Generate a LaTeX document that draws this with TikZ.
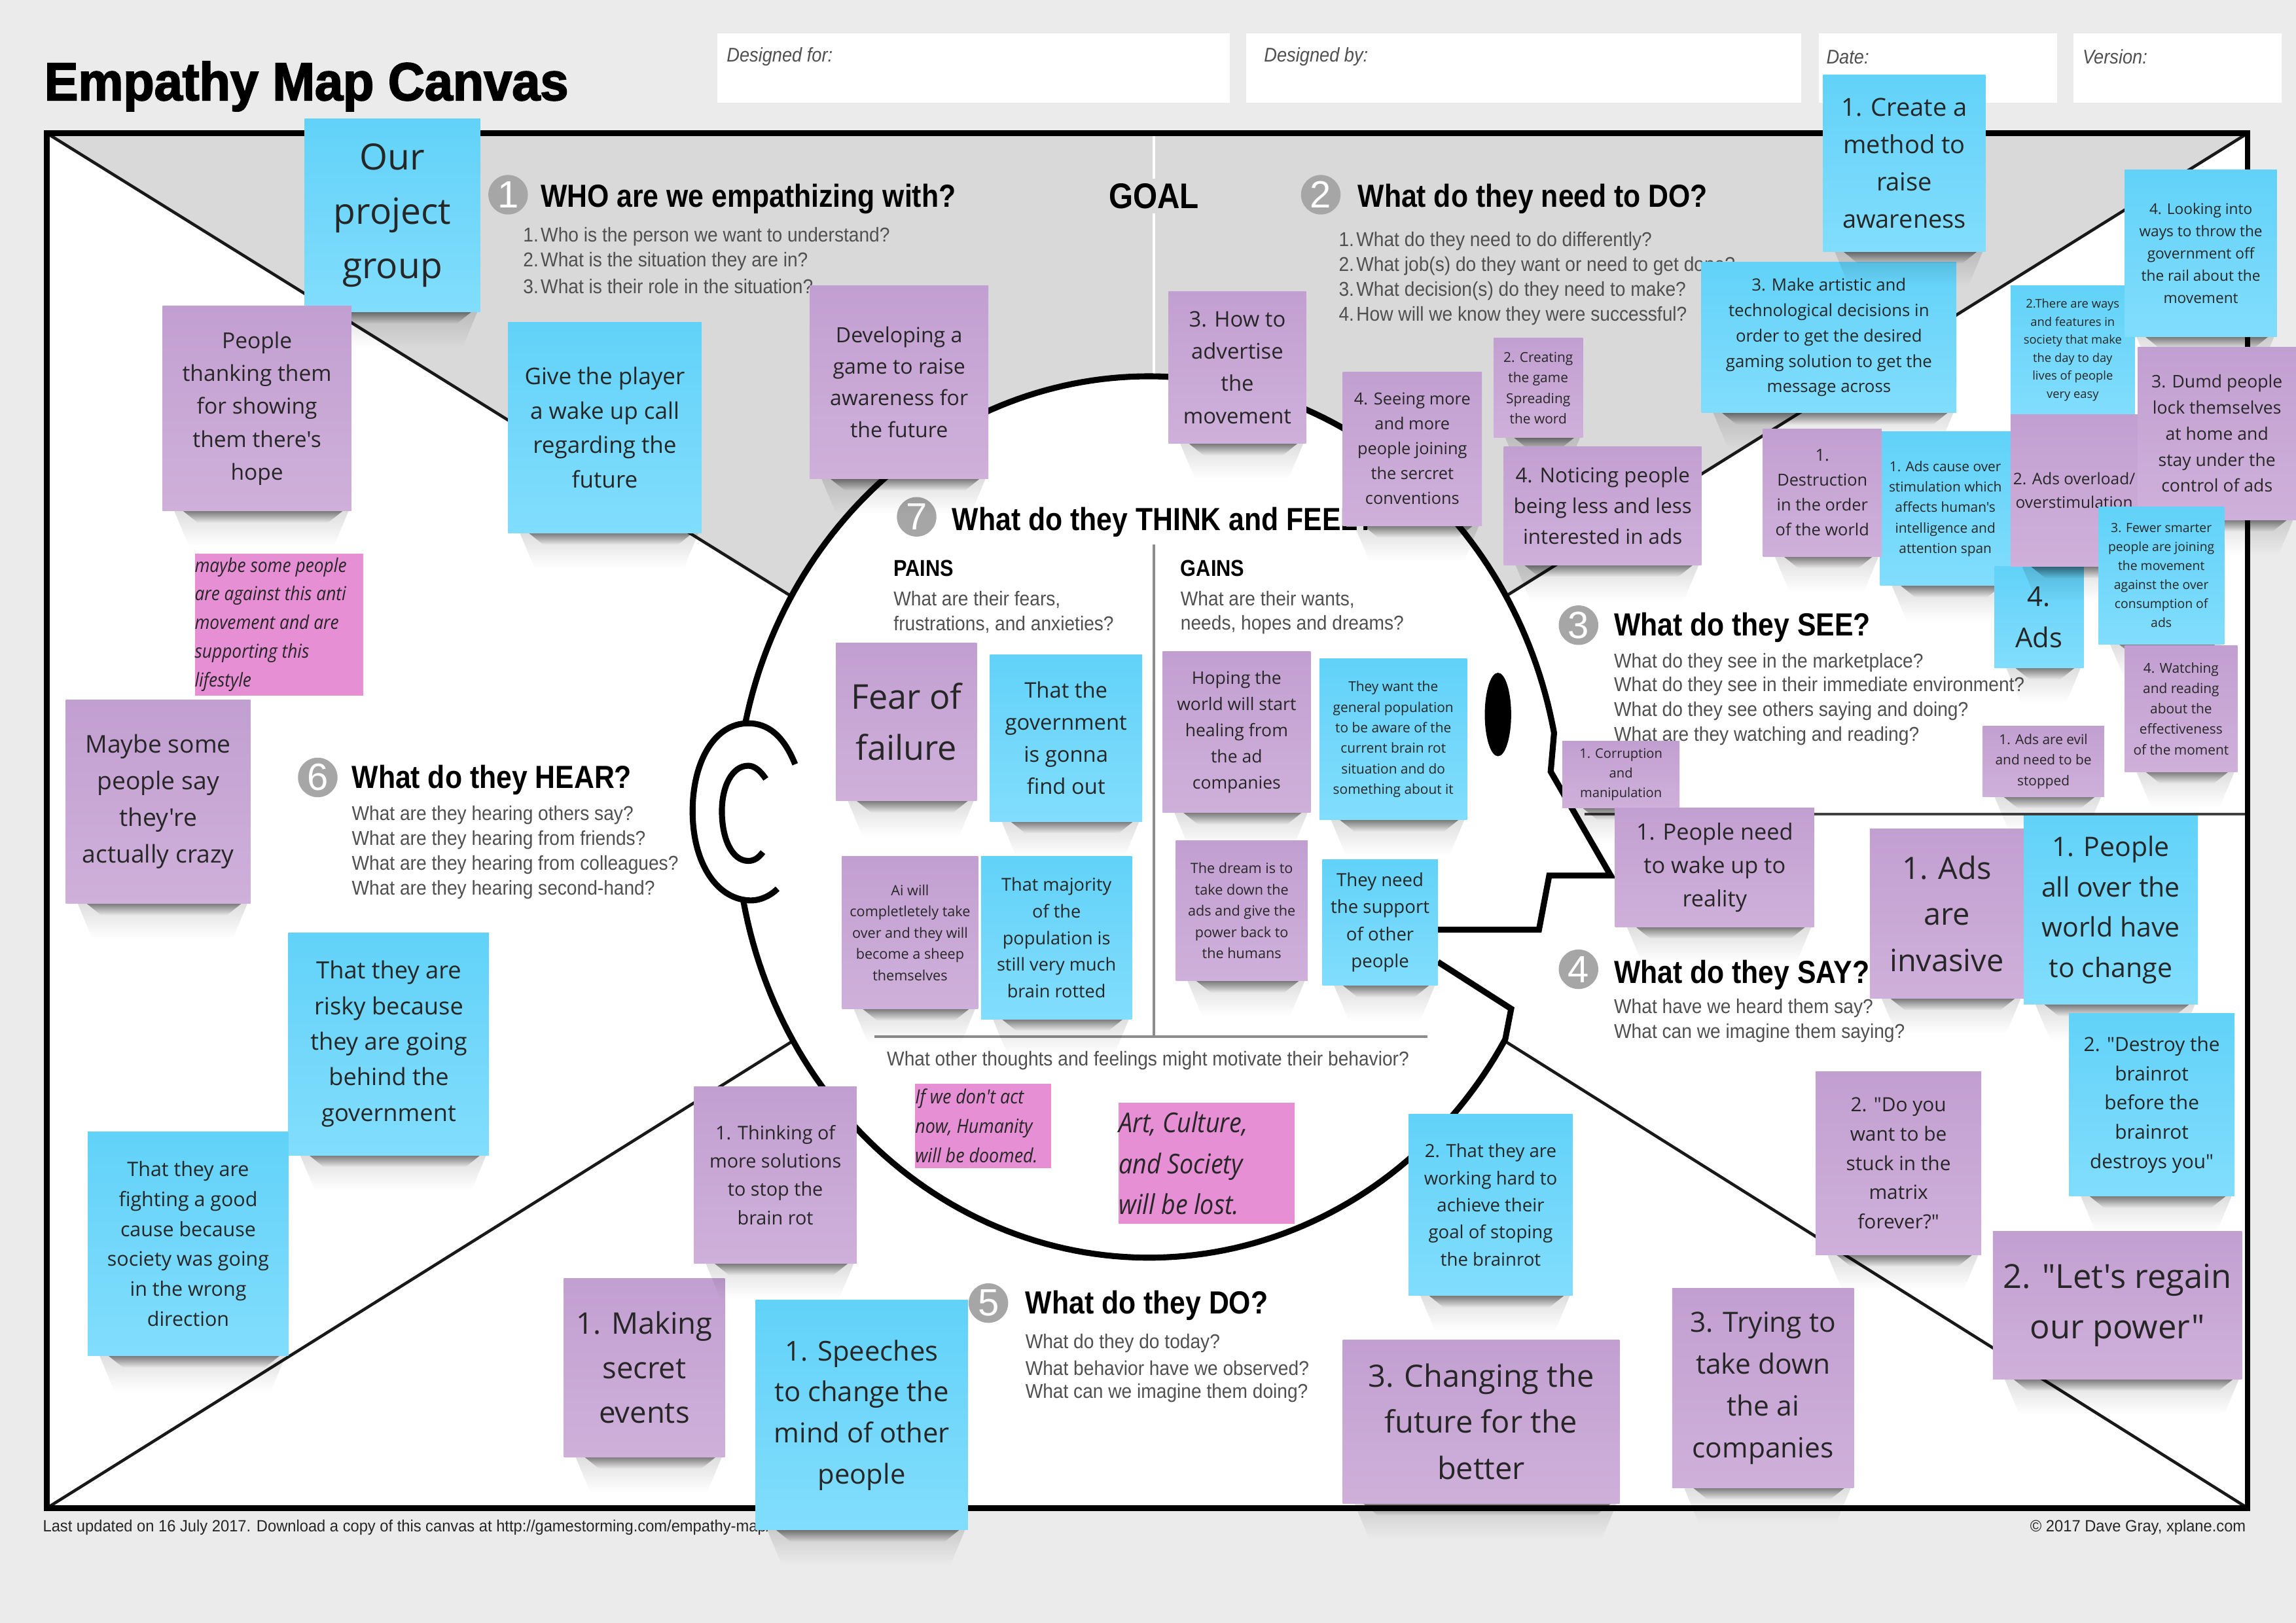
\documentclass[tikz,border=0pt]{standalone}
\usepackage{fontspec}
\usetikzlibrary{fadings,shapes.geometric}
\newfontfamily\notefont{Open Sans}
\newfontfamily\padfont{Open Sans}[FakeStretch=0.9]
\newfontfamily\headfont{Liberation Sans Bold}[FakeStretch=0.875]
\newfontfamily\qfont{Liberation Sans}[FakeStretch=0.92]
\newfontfamily\footfont{Liberation Sans}[FakeStretch=0.95]
\newfontfamily\metafont{Liberation Sans Italic}[FakeStretch=0.9]
\newfontfamily\discfont{Liberation Sans}
\newfontfamily\titlefont{Liberation Sans Bold}[FakeStretch=0.95,FakeBold=2.4]
\definecolor{pagebg}{HTML}{EBEBEB}
\definecolor{goalgray}{HTML}{D9D9D9}
\definecolor{numgray}{HTML}{A6A6A6}
\definecolor{qgray}{HTML}{505050}
\definecolor{blueA}{HTML}{62D2F8}
\definecolor{blueB}{HTML}{82DDFD}
\definecolor{purpA}{HTML}{C29FD1}
\definecolor{purpB}{HTML}{CFB0DA}
\definecolor{pinkA}{HTML}{E78FD4}
\def\uu{0.63649}
\tikzset{
  bluenote/.style={top color=blueA,bottom color=blueB},
  purplenote/.style={top color=purpA,bottom color=purpB},
  pinknote/.style={fill=pinkA},
  notebox/.style={rectangle,inner sep=0pt,outer sep=0pt,align=center,text=black!85},
  noteshadow/.style={fill=black,opacity=.45,path fading=south},
  notehalo/.style={fill=black,opacity=.13,path fading=south},
  numdisc/.style={circle,fill=numgray,text=white,minimum size=27*\uu pt,inner sep=0pt,font=\discfont\fontsize{16.5}{18}\selectfont},
  headtext/.style={anchor=west,inner sep=0pt,yshift=-1.1pt,font=\headfont\fontsize{13.9}{16}\selectfont},
  subhead/.style={anchor=west,inner sep=0pt,font=\headfont\fontsize{10}{12}\selectfont},
  qtext/.style={anchor=west,inner sep=0pt,yshift=-1pt,text=qgray,font=\qfont\fontsize{8.7}{10.8}\selectfont},
  foot/.style={inner sep=0pt,yshift=-0.8pt,font=\footfont\fontsize{7.1}{9}\selectfont,text=black!85},
  metatext/.style={anchor=west,inner sep=0pt,yshift=-1.2pt,text=qgray,font=\metafont\fontsize{8.6}{10}\selectfont},
  metabox/.style={rectangle,fill=white,inner sep=0pt,outer sep=0pt},
  diag/.style={line width=1.3pt,black!90},
  headline/.style={line width=2.6pt,black,line join=miter},
}
\newcommand{\qn}[1]{\makebox[12\dimexpr 0.63649pt\relax][l]{#1}}
% \sticky{name}{style}{x1}{y1}{x2}{y2}{leading}{text}
\newcommand{\sticky}[8]{%
  \pgfmathsetmacro\fsz{#7/1.5*\uu}\pgfmathsetmacro\lsk{#7*\uu}%
  \fill[notehalo] ({#3+8},#6) -- ({#5-2},#6) -- ({#5-12},{#6+24}) -- ({#3+18},{#6+24}) -- cycle;
  \fill[noteshadow] ({#3+14},#6) -- ({#5-6},#6) -- ({#5-16},{#6+8}) -- ({#3+24},{#6+8}) -- cycle;
  \node[notebox,#2,minimum width={(#5-#3)*\uu pt},minimum height={(#6-#4)*\uu pt},
    font=\notefont\fontsize{\fsz pt}{\lsk pt}\selectfont] (#1) at ({(#3+#5)/2},{(#4+#6)/2}) {#8};
}
% \pinkpad{name}{x1}{y1}{x2}{y2}{leading}{text}
\newcommand{\pinkpad}[7]{%
  \pgfmathsetmacro\fsz{#6/1.5*\uu}\pgfmathsetmacro\lsk{#6*\uu}%
  \node[notebox,pinknote,minimum width={(#4-#2)*\uu pt},minimum height={(#5-#3)*\uu pt}] (#1) at ({(#2+#4)/2},{(#3+#5)/2}) {};
  \node[notebox,align=left,anchor=west,
    font=\padfont\itshape\fontsize{\fsz pt}{\lsk pt}\selectfont] (#1t) at (#1.west) {#7};
}
\begin{document}
\begin{tikzpicture}[x=\uu pt,y=-\uu pt]
\useasboundingbox (0,0) rectangle (1568,1108.5);
\fill[pagebg] (0,0) rectangle (1568,1108.5);

% header
\node[anchor=west,inner sep=0pt,font=\titlefont\fontsize{23.2}{26}\selectfont] (title) at (30,59) {Empathy Map Canvas};
\node[metabox,minimum width=350*\uu pt,minimum height=47*\uu pt] (forbox) at (665,46.5) {};
\node[metabox,minimum width=379*\uu pt,minimum height=47*\uu pt] (bybox) at (1040.5,46.5) {};
\node[metabox,minimum width=163*\uu pt,minimum height=47*\uu pt] (datebox) at (1323.5,46.5) {};
\node[metabox,minimum width=142*\uu pt,minimum height=47*\uu pt] (verbox) at (1487,46.5) {};
\node[metatext] (forlab) at (496,37) {Designed for:};
\node[metatext] (bylab) at (863,37) {Designed by:};
\node[metatext] (datelab) at (1247,37) {Date:};
\node[metatext] (verlab) at (1422,37) {Version:};

% canvas
\coordinate (tl) at (32,91); \coordinate (tr) at (1535,91);
\coordinate (bl) at (32,1030); \coordinate (br) at (1535,1030);
\fill[white] (tl) rectangle (br);
\coordinate (htl) at (540,407); \coordinate (htr) at (1027,408);
\coordinate (hbl) at (543,710); \coordinate (hbr) at (1026,710);
\fill[goalgray] (tl) -- (tr) -- (htr) -- (784,300) -- (htl) -- cycle;
\draw[diag] (tl) -- (htl);
\draw[diag] (tr) -- (htr);
\draw[diag] (bl) -- (hbl);
\draw[diag] (br) -- (hbr);
\coordinate (rmid) at (1082,556); \coordinate (rend) at (1535,556);
\draw[diag,black!75] (rmid) -- (rend);
\coordinate (gtop) at (788,91); \coordinate (gbot) at (788,258);
\draw[white,line width=1.2pt] (gtop) -- (gbot);
\draw[line width=2.4pt,line join=miter] (tl) rectangle (br);

% head
\fill[white]
  plot[domain=192.3:349,samples=120] ({784.5+282*cos(\x)},{558+301*sin(\x)})
  -- (1059,527) -- (1100,598) -- (1058,598) -- (1051,635) -- (982,635) -- (982,657) -- (1032,689)
  -- plot[domain=30.3:169,samples=100] ({784.5+282*cos(\x)},{558+301*sin(\x)}) -- cycle;
\draw[headline]
  plot[domain=192.3:349,samples=120] ({784.5+282*cos(\x)},{558+301*sin(\x)})
  -- (1059,527) -- (1100,598) -- (1058,598) -- (1051,635) -- (982,635);
\draw[headline] (982,657) -- (1032,689)
  -- plot[domain=30.3:169,samples=100] ({784.5+282*cos(\x)},{558+301*sin(\x)});
% ear
\draw[headline] (543,522) .. controls (535,502) and (524,494) .. (511,494)
  .. controls (488,494) and (473,520) .. (473,554)
  .. controls (473,590) and (490,615) .. (513,615)
  .. controls (519,615) and (526,612) .. (531,607);
\draw[headline] (523,532) .. controls (519,526) and (515,523) .. (511,523)
  .. controls (500,523) and (493,537) .. (493,554)
  .. controls (493,573) and (500,588) .. (511,588)
  .. controls (515,588) and (518,586) .. (521,582);
\node[ellipse,fill=black,minimum width=18*\uu pt,minimum height=57*\uu pt,inner sep=0pt] (eye) at (1023,488) {};

% inner rules
\coordinate (vt) at (788,372); \coordinate (vb) at (788,708);
\coordinate (hl) at (597,708); \coordinate (hr) at (975,708);
\draw[line width=1pt,black!45] (vt) -- (vb);
\draw[line width=1pt,black!45] (hl) -- (hr);

% section 1
\node[numdisc] (n1) at (347,133) {1};
\node[headtext] (h1) at (369,134) {WHO are we empathizing with?};
\node[qtext] (q11) at (357,160) {\qn{1.}Who is the person we want to understand?};
\node[qtext] (q12) at (357,177) {\qn{2.}What is the situation they are in?};
\node[qtext] (q13) at (357,194) {\qn{3.}What is their role in the situation?};
% goal
\node[fill=goalgray,inner sep=2pt,yshift=-.6pt,font=\headfont\fontsize{15.5}{18}\selectfont] (goal) at (788,133) {GOAL};
% section 2
\node[numdisc] (n2) at (902,133) {2};
\node[headtext] (h2) at (927,134) {What do they need to DO?};
\node[qtext] (q21) at (914,163) {\qn{1.}What do they need to do differently?};
\node[qtext] (q22) at (914,180) {\qn{2.}What job(s) do they want or need to get done?};
\node[qtext] (q23) at (914,197) {\qn{3.}What decision(s) do they need to make?};
\node[qtext] (q24) at (914,214) {\qn{4.}How will we know they were successful?};
% section 7
\node[numdisc] (n7) at (626,353) {7};
\node[headtext] (h7) at (650,355) {What do they THINK and FEEL?};
\node[subhead] (pains) at (610,388) {PAINS};
\node[qtext] (p1) at (610,408) {What are their fears,};
\node[qtext] (p2) at (610,425) {frustrations, and anxieties?};
\node[subhead] (gains) at (806,388) {GAINS};
\node[qtext] (g1) at (806,408) {What are their wants,};
\node[qtext] (g2) at (806,425) {needs, hopes and dreams?};
\node[qtext,anchor=center] (other) at (784,723) {What other thoughts and feelings might motivate their behavior?};
% section 3
\node[numdisc] (n3) at (1078,427) {3};
\node[headtext] (h3) at (1102,427) {What do they SEE?};
\node[qtext] (q31) at (1102,451) {What do they see in the marketplace?};
\node[qtext] (q32) at (1102,467) {What do they see in their immediate environment?};
\node[qtext] (q33) at (1102,484) {What do they see others saying and doing?};
\node[qtext] (q34) at (1102,501) {What are they watching and reading?};
% section 6
\node[numdisc] (n6) at (217,531) {6};
\node[headtext] (h6) at (240,531) {What do they HEAR?};
\node[qtext] (q61) at (240,555) {What are they hearing others say?};
\node[qtext] (q62) at (240,572) {What are they hearing from friends?};
\node[qtext] (q63) at (240,589) {What are they hearing from colleagues?};
\node[qtext] (q64) at (240,606) {What are they hearing second-hand?};
% section 4
\node[numdisc] (n4) at (1078,662) {4};
\node[headtext] (h4) at (1102,664) {What do they SAY?};
\node[qtext] (q41) at (1102,687) {What have we heard them say?};
\node[qtext] (q42) at (1102,704) {What can we imagine them saying?};
% section 5
\node[numdisc] (n5) at (675,890) {5};
\node[headtext] (h5) at (700,890) {What do they DO?};
\node[qtext] (q51) at (700,916) {What do they do today?};
\node[qtext] (q52) at (700,933) {What behavior have we observed?};
\node[qtext] (q53) at (700,950) {What can we imagine them doing?};
% footer
\node[foot,anchor=west] (footl) at (29,1042) {Last updated on 16 July 2017. Download a copy of this canvas at http://gamestorming.com/empathy-map/};
\node[foot,anchor=east] (footr) at (1534,1042) {© 2017 Dave Gray, xplane.com};

% notes: goal area
\sticky{sOur}{bluenote}{208}{81}{328}{213}{37}{Our\\project\\group}
\sticky{sGive}{bluenote}{347}{220}{479}{364}{23.5}{Give the player\\a wake up call\\regarding the\\future}
\sticky{sDevelop}{purplenote}{553}{195}{675}{327}{21.5}{Developing a\\game to raise\\awareness for\\the future}
\sticky{sHow}{purplenote}{798}{199}{892}{303}{22}{3. How to\\advertise\\the\\movement}
\sticky{sSeeing}{purplenote}{917}{254}{1012}{359}{17}{4. Seeing more\\and more\\people joining\\the sercret\\conventions}
\sticky{sCreating}{purplenote}{1020}{231}{1081}{299}{14}{2. Creating\\the game\\Spreading\\the word}
\sticky{sNotice}{purplenote}{1027}{305}{1162}{386}{21}{4. Noticing people\\being less and less\\interested in ads}
\sticky{sMake}{bluenote}{1162}{179}{1336}{282}{17.3}{3. Make artistic and\\technological decisions in\\order to get the desired\\gaming solution to get the\\message across}
\sticky{sCreate}{bluenote}{1245}{51}{1356}{172}{25.5}{1. Create a\\method to\\raise\\awareness}
% notes: see area
\sticky{sWays}{bluenote}{1373}{195}{1458}{283}{12.3}{2.There are ways\\and features in\\society that make\\the day to day\\lives of people\\very easy}
\sticky{sLook}{bluenote}{1451}{116}{1555}{230}{15.2}{4. Looking into\\ways to throw the\\government off\\the rail about the\\movement}
\sticky{sAdsCause}{bluenote}{1284}{295}{1373}{400}{14}{1. Ads cause over\\stimulation which\\affects human's\\intelligence and\\attention span}
\sticky{sDestruct}{purplenote}{1204}{293}{1285}{380}{17}{1.\\Destruction\\in the order\\of the world}
\sticky{sAds}{bluenote}{1362}{387}{1423}{456}{28}{4.\\Ads}
\sticky{sOverload}{purplenote}{1373}{283}{1460}{387}{16.4}{2. Ads overload/\\overstimulation}
\sticky{sDumd}{purplenote}{1460}{237}{1568}{355}{17.8}{3. Dumd people\\lock themselves\\at home and\\stay under the\\control of ads}
\sticky{sFewer}{bluenote}{1433}{346}{1519}{440}{13}{3. Fewer smarter\\people are joining\\the movement\\against the over\\consumption of\\ads}
\sticky{sWatch}{purplenote}{1451}{441}{1528}{527}{14}{4. Watching\\and reading\\about the\\effectiveness\\of the moment}
\sticky{sEvil}{purplenote}{1354}{496}{1437}{544}{14}{1. Ads are evil\\and need to be\\stopped}
\sticky{sCorrupt}{purplenote}{1067}{506}{1147}{552}{13.5}{1. Corruption\\and\\manipulation}
% notes: say area
\sticky{sWake}{purplenote}{1103}{552}{1239}{633}{23}{1. People need\\to wake up to\\reality}
\sticky{sInvasive}{purplenote}{1277}{566}{1382}{682}{31.5}{1. Ads\\are\\invasive}
\sticky{sAllOver}{bluenote}{1382}{557}{1501}{686}{27.5}{1. People\\all over the\\world have\\to change}
\sticky{sDestroy}{bluenote}{1413}{692}{1526}{817}{20}{2. "Destroy the\\brainrot\\before the\\brainrot\\destroys you"}
\sticky{sMatrix}{purplenote}{1240}{732}{1353}{857}{20}{2. "Do you\\want to be\\stuck in the\\matrix\\forever?"}
\sticky{sRegain}{purplenote}{1361}{841}{1531}{942}{34}{2. "Let's regain\\our power"}
% notes: do area
\sticky{sTrying}{purplenote}{1142}{880}{1266}{1016}{28.5}{3. Trying to\\take down\\the ai\\companies}
\sticky{sChanging}{purplenote}{917}{915}{1106}{1027}{31.5}{3. Changing the\\future for the\\better}
\sticky{sHard}{bluenote}{962}{761}{1074}{885}{18.5}{2. That they are\\working hard to\\achieve their\\goal of stoping\\the brainrot}
\sticky{sMaking}{purplenote}{385}{873}{495}{995}{30.5}{1. Making\\secret\\events}
\sticky{sThinking}{purplenote}{474}{742}{585}{863}{19.3}{1. Thinking of\\more solutions\\to stop the\\brain rot}
\sticky{sSpeech}{bluenote}{516}{888}{661}{1045}{28}{1. Speeches\\to change the\\mind of other\\people}
% notes: hear area
\sticky{sThank}{purplenote}{111}{209}{240}{349}{22.5}{People\\thanking them\\for showing\\them there's\\hope}
\sticky{sCrazy}{purplenote}{45}{478}{171}{617}{25}{Maybe some\\people say\\they're\\actually crazy}
\sticky{sRisky}{bluenote}{197}{637}{334}{789}{24.3}{That they are\\risky because\\they are going\\behind the\\government}
\sticky{sCause}{bluenote}{60}{773}{197}{926}{20.4}{That they are\\fighting a good\\cause because\\society was going\\in the wrong\\direction}
% notes: think and feel
\sticky{sFear}{purplenote}{571}{439}{667}{547}{35}{Fear of\\failure}
\sticky{sGov}{bluenote}{676}{447}{780}{561}{22}{That the\\government\\is gonna\\find out}
\sticky{sHoping}{purplenote}{794}{445}{895}{555}{17.8}{Hoping the\\world will start\\healing from\\the ad\\companies}
\sticky{sWant}{bluenote}{901}{450}{1002}{560}{14}{They want the\\general population\\to be aware of the\\current brain rot\\situation and do\\something about it}
\sticky{sAi}{purplenote}{575}{585}{668}{689}{14.5}{Ai will\\completletely take\\over and they will\\become a sheep\\themselves}
\sticky{sMajor}{bluenote}{670}{585}{773}{696}{18.2}{That majority\\of the\\population is\\still very much\\brain rotted}
\sticky{sDream}{purplenote}{803}{574}{893}{670}{14.5}{The dream is to\\take down the\\ads and give the\\power back to\\the humans}
\sticky{sSupport}{bluenote}{903}{587}{982}{673}{18.5}{They need\\the support\\of other\\people}
% pink pads
\pinkpad{pSome}{133}{378}{248}{475}{19.6}{maybe some people\\are against this anti\\movement and are\\supporting this\\lifestyle}
\pinkpad{pDoom}{625}{740}{718}{798}{20}{If we don't act\\now, Humanity\\will be doomed.}
\pinkpad{pArt}{764}{753}{884}{836}{28}{Art, Culture,\\and Society\\will be lost.}
\end{tikzpicture}
\end{document}
